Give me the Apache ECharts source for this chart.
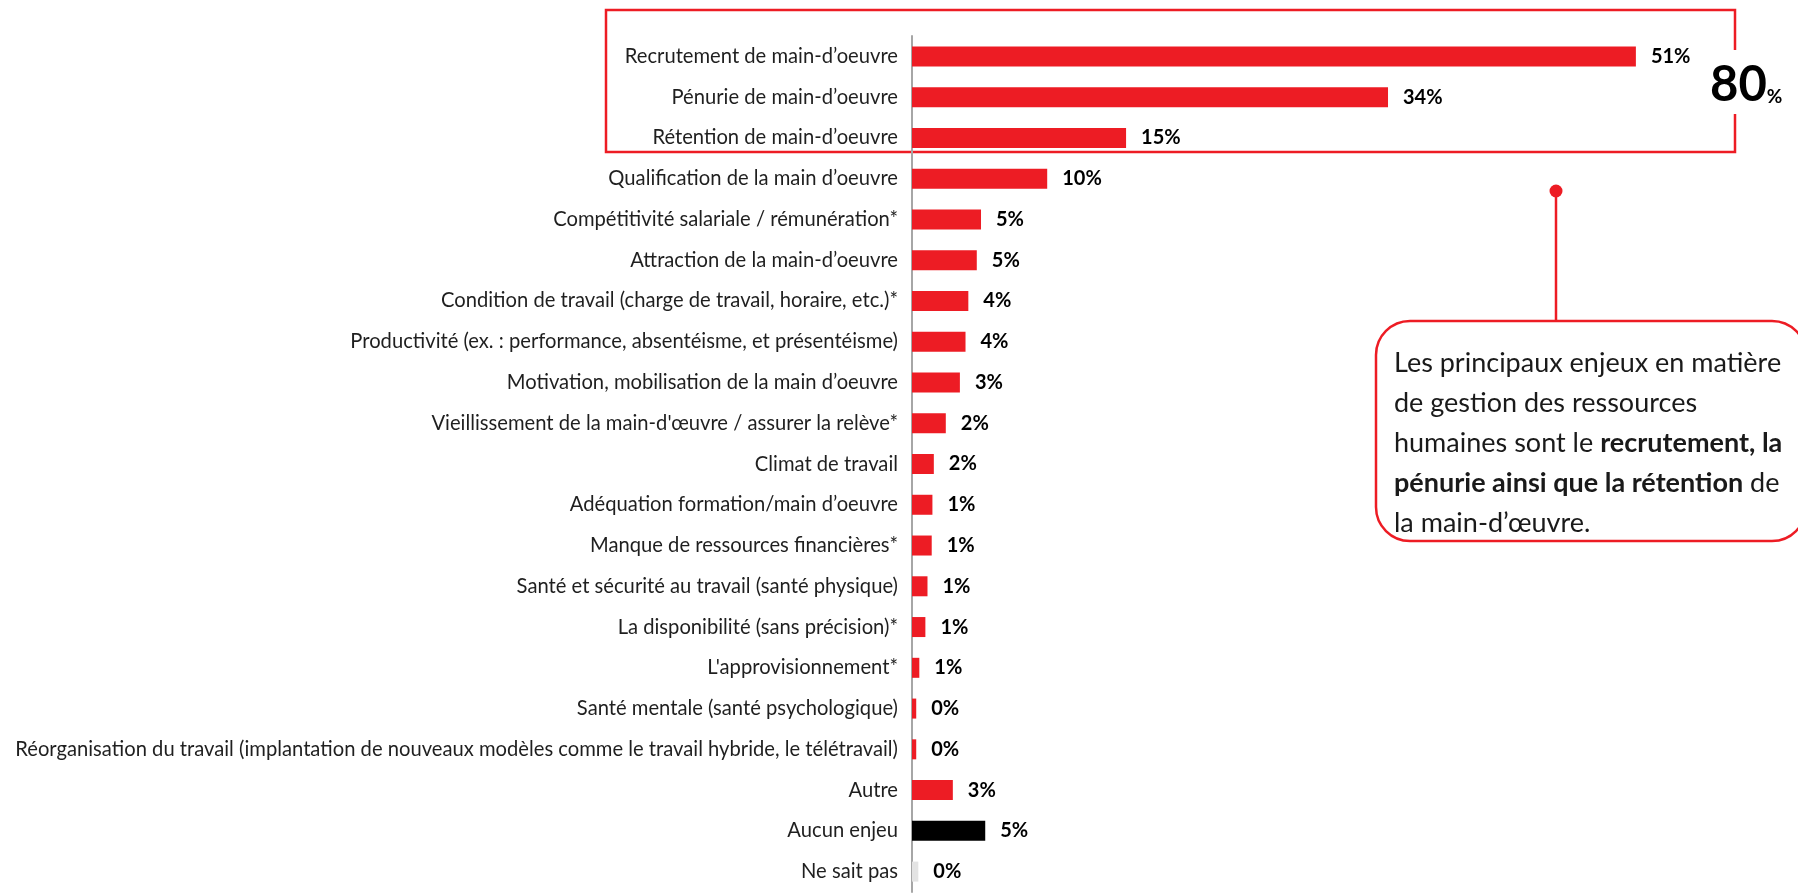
<!DOCTYPE html>
<html>
<head>
<meta charset="utf-8">
<script src="https://cdn.jsdelivr.net/npm/echarts@6/dist/echarts.min.js"></script>
<style>
  html, body { margin: 0; padding: 0; background: #fff; }
  #chart { width: 1798px; height: 895px; }
</style>
</head>
<body>
<div id="chart"></div>
<script>
// Enjeux en gestion des ressources humaines (% des mentions)
const categories = [
  "Recrutement de main-d’oeuvre",
  "Pénurie de main-d’oeuvre",
  "Rétention de main-d’oeuvre",
  "Qualification de la main d’oeuvre",
  "Compétitivité salariale / rémunération*",
  "Attraction de la main-d’oeuvre",
  "Condition de travail (charge de travail, horaire, etc.)*",
  "Productivité (ex. : performance, absentéisme, et présentéisme)",
  "Motivation, mobilisation de la main d’oeuvre",
  "Vieillissement de la main-d'œuvre / assurer la relève*",
  "Climat de travail",
  "Adéquation formation/main d’oeuvre",
  "Manque de ressources financières*",
  "Santé et sécurité au travail (santé physique)",
  "La disponibilité (sans précision)*",
  "L'approvisionnement*",
  "Santé mentale (santé psychologique)",
  "Réorganisation du travail (implantation de nouveaux modèles comme le travail hybride, le télétravail)",
  "Autre",
  "Aucun enjeu",
  "Ne sait pas"
];
const values = [51.4, 33.8, 15.2, 9.6, 4.9, 4.6, 4.0, 3.8, 3.4, 2.4, 1.55, 1.45, 1.4, 1.1, 0.95, 0.52, 0.3, 0.3, 2.9, 5.2, 0.45];
const barColors = [
  "#ED1C24", "#ED1C24", "#ED1C24", "#ED1C24", "#ED1C24", "#ED1C24", "#ED1C24",
  "#ED1C24", "#ED1C24", "#ED1C24", "#ED1C24", "#ED1C24", "#ED1C24", "#ED1C24",
  "#ED1C24", "#ED1C24", "#ED1C24", "#ED1C24", "#ED1C24", "#000000", "#E3E3E3"
];
const topThreeTotal = 80;
const calloutLines = [
  "Les principaux enjeux en matière",
  "de gestion des ressources",
  "humaines sont le {b|recrutement, la}",
  "{b|pénurie ainsi que la rétention} de",
  "la main-d’œuvre."
];

const RED = "#ED1C24";
const FONT = "Lato";

const chart = echarts.init(document.getElementById("chart"), null, { renderer: "canvas" });

chart.setOption({
  animation: false,
  backgroundColor: "#ffffff",
  textStyle: { fontFamily: FONT },
  grid: { left: 912, top: 36, right: 41, bottom: 3, containLabel: false },
  xAxis: {
    type: "value",
    min: 0,
    max: 60,
    show: false
  },
  yAxis: {
    type: "category",
    inverse: true,
    data: categories,
    axisLine: { show: true, lineStyle: { color: "#A6A6A6", width: 2 } },
    axisTick: { show: false },
    axisLabel: { margin: 14, fontSize: 20.2, color: "#1f1f1f", fontFamily: FONT }
  },
  series: [{
    type: "bar",
    barWidth: 20,
    data: values.map((v, i) => ({ value: v, itemStyle: { color: barColors[i] } })),
    label: {
      show: true,
      position: "right",
      distance: 15,
      fontFamily: FONT,
      fontWeight: "bold",
      fontSize: 20,
      color: "#000",
      formatter: p => Math.round(p.value) + "%"
    }
  }],
  graphic: [
    // frame around the three main issues, open where the total sits
    {
      type: "polyline",
      shape: { points: [[1735, 50], [1735, 10], [606, 10], [606, 152], [1735, 152], [1735, 114]] },
      style: { stroke: RED, lineWidth: 2.5, fill: null }
    },
    {
      type: "text",
      left: 1710,
      top: 61,
      style: {
        text: "{big|" + topThreeTotal + "}{pct|%}",
        rich: {
          big: { fontFamily: FONT, fontWeight: "bold", fontSize: 49, color: "#000", verticalAlign: "bottom" },
          pct: { fontFamily: FONT, fontWeight: "bold", fontSize: 19, color: "#000", verticalAlign: "bottom", padding: [0, 0, 4, 0] }
        }
      }
    },
    // callout connector
    {
      type: "line",
      shape: { x1: 1556, y1: 192, x2: 1556, y2: 321 },
      style: { stroke: RED, lineWidth: 2.5 }
    },
    {
      type: "circle",
      shape: { cx: 1556, cy: 191, r: 6.5 },
      style: { fill: RED }
    },
    {
      type: "rect",
      shape: { x: 1376, y: 321, width: 430, height: 220, r: 34 },
      style: { stroke: RED, lineWidth: 2.5, fill: "#fff" }
    },
    {
      type: "text",
      left: 1394,
      top: 343,
      style: {
        text: calloutLines.join("\n"),
        fontFamily: FONT,
        fontSize: 27,
        lineHeight: 40,
        fill: "#1a1a1a",
        rich: {
          b: { fontFamily: FONT, fontWeight: "bold", fontSize: 27, lineHeight: 40, color: "#000" }
        }
      }
    }
  ]
});
</script>
</body>
</html>
